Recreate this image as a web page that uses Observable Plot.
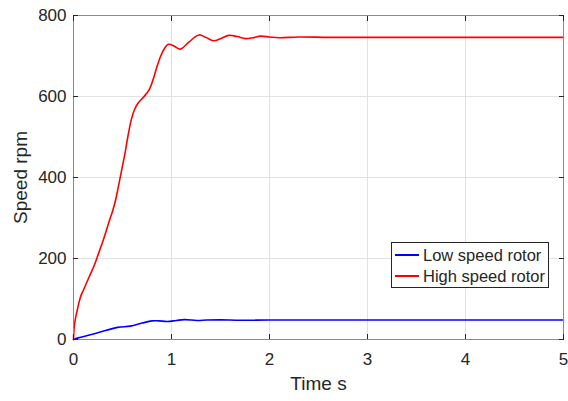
<!DOCTYPE html>
<html>
<head>
<meta charset="utf-8">
<script src="https://cdn.jsdelivr.net/npm/d3@7"></script>
<script src="https://cdn.jsdelivr.net/npm/@observablehq/plot@0.6"></script>
<style>
  html, body { margin: 0; padding: 0; background: #fff; }
  #wrap { position: relative; width: 568px; height: 401px; font-family: "Liberation Sans", Arial, sans-serif; }
  #legend { position: absolute; left: 391px; top: 242px; width: 158px; height: 46px; border: 1px solid #262626; background: #fff; box-sizing: border-box; font-size: 16.5px; color: #262626; }
  .item { position: absolute; left: 3px; height: 20px; display: flex; align-items: center; }
  .sw { width: 24px; height: 0; border-top: 2px solid; margin-right: 4px; }
</style>
</head>
<body>
<div id="wrap"></div>
<script>
const seriesNames = ["Low speed rotor", "High speed rotor"];
const seriesColors = ["#0000ff", "#ff0000"];

const lowTime = [0, 0.048, 0.24, 0.45, 0.58, 0.70, 0.80, 0.87, 0.956, 1.05, 1.13, 1.26, 1.36, 1.5, 1.7, 2, 2.5, 3, 4, 5];
const lowSpeed = [0, 4, 16, 30, 33, 40.5, 46, 46, 44.5, 47, 49, 47, 48, 48.5, 47.5, 48, 48, 48, 48, 48];

const highTime = [0, 0.007, 0.02, 0.037, 0.07, 0.105, 0.157, 0.21, 0.24, 0.31, 0.37, 0.40, 0.43, 0.46, 0.497, 0.53, 0.56, 0.59, 0.62, 0.66, 0.72, 0.77, 0.81, 0.85, 0.89, 0.94, 0.97, 1.03, 1.09, 1.18, 1.28, 1.35, 1.43, 1.51, 1.585, 1.67, 1.755, 1.83, 1.91, 2.0, 2.1, 2.3, 2.6, 3, 3.5, 4, 4.5, 5];
const highSpeed = [0, 30, 52, 71, 104, 124, 153, 182, 202, 250, 296, 318, 345, 380, 425, 466, 508, 543, 566, 584, 600, 616, 640, 672, 700, 723, 729, 724, 717, 735, 752, 746, 737.5, 744, 751, 748, 743, 745, 749, 747, 745, 747, 746, 746, 746, 746, 746, 746];

const xTicks = [0, 1, 2, 3, 4, 5];
const yTicks = [0, 200, 400, 600, 800];

const low = lowTime.map((t, i) => ({t, v: lowSpeed[i]}));
const high = highTime.map((t, i) => ({t, v: highSpeed[i]}));

const axisColor = "#262626";

const chart = Plot.plot({
  width: 568,
  height: 401,
  marginLeft: 73,
  marginRight: 5,
  marginTop: 15,
  marginBottom: 62,
  style: {fontFamily: "Liberation Sans, Arial, sans-serif", fontSize: "17px", color: axisColor, background: "#fff"},
  x: {domain: [0, 5]},
  y: {domain: [0, 800]},
  marks: [
    Plot.gridX(xTicks, {stroke: "#e2e2e2", strokeOpacity: 1}),
    Plot.gridY(yTicks, {stroke: "#e2e2e2", strokeOpacity: 1}),
    Plot.line(low, {x: "t", y: "v", stroke: seriesColors[0], strokeWidth: 1.6, curve: "catmull-rom"}),
    Plot.line(high, {x: "t", y: "v", stroke: seriesColors[1], strokeWidth: 1.6, curve: "catmull-rom"}),
    Plot.frame({stroke: "#8a8a8a"}),
    Plot.axisX(xTicks, {anchor: "bottom", tickSize: -5, tickPadding: 18, stroke: axisColor, fill: axisColor, fontSize: 17, label: "Time s", labelAnchor: "center", labelOffset: 50, labelArrow: "none"}),
    Plot.axisX(xTicks, {anchor: "top", tickSize: -5, tickFormat: () => "", stroke: axisColor, label: null}),
    Plot.axisY(yTicks, {anchor: "left", tickSize: -5, tickPadding: 12, stroke: axisColor, fill: axisColor, fontSize: 17, label: "Speed rpm", labelAnchor: "center", labelOffset: 60, labelArrow: "none"}),
    Plot.axisY(yTicks, {anchor: "right", tickSize: -5, tickFormat: () => "", stroke: axisColor, label: null})
  ]
});

const wrap = document.getElementById("wrap");
wrap.appendChild(chart);

const legend = document.createElement("div");
legend.id = "legend";
seriesNames.forEach((name, i) => {
  const it = document.createElement("div");
  it.className = "item";
  it.style.top = (2 + i * 21) + "px";
  const sw = document.createElement("span");
  sw.className = "sw";
  sw.style.borderTopColor = seriesColors[i];
  const tx = document.createElement("span");
  tx.textContent = name;
  it.appendChild(sw);
  it.appendChild(tx);
  legend.appendChild(it);
});
wrap.appendChild(legend);

chart.querySelectorAll("[aria-label$='axis label'] text, [aria-label$='axis label']").forEach(el => { el.style.fontSize = "19px"; });
</script>
</body>
</html>
